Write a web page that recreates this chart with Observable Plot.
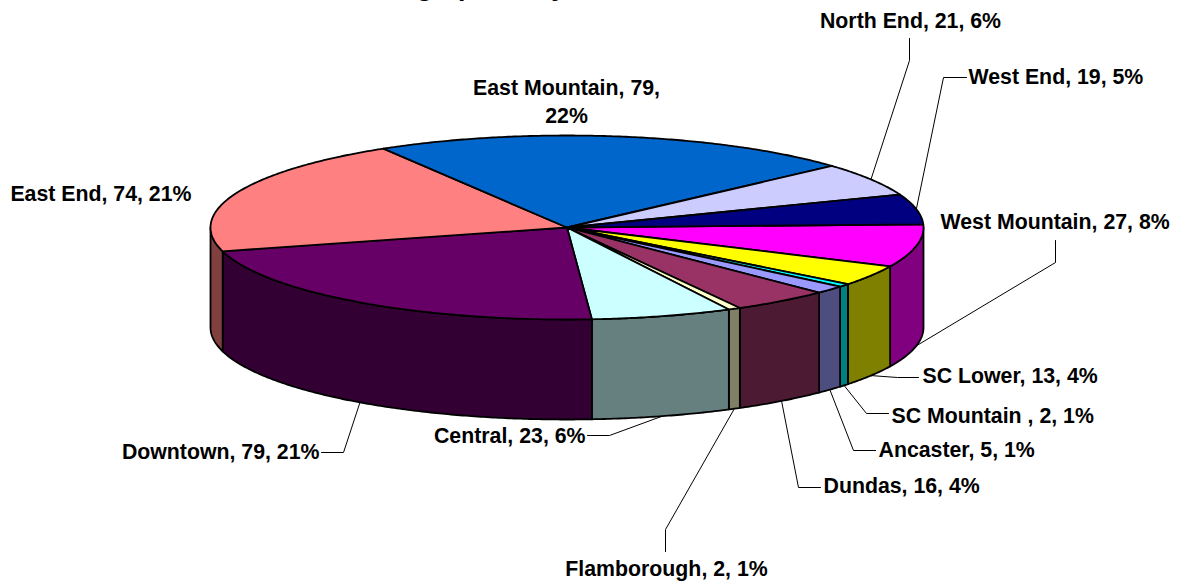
<!DOCTYPE html>
<html><head><meta charset="utf-8">
<script src="https://cdn.jsdelivr.net/npm/d3@7"></script>
<script src="https://cdn.jsdelivr.net/npm/@observablehq/plot@0.6"></script>
<style>html,body{margin:0;padding:0;background:#fff;overflow:hidden}</style>
</head><body><div id="chart"></div>
<script>
const names = ["West Mountain","SC Lower","SC Mountain ","Ancaster","Dundas","Flamborough","Central","Downtown","East End","East Mountain","North End","West End"];
const counts = [27,13,2,5,16,2,23,79,74,79,21,19];
const percents = [8,4,1,1,4,1,6,21,21,22,6,5];
const topColors = ["#FF00FF","#FFFF00","#00FFFF","#9999FF","#993366","#FFFFCC","#CCFFFF","#660066","#FF8080","#0066CC","#CCCCFF","#000080"];
const sideColors = ["#800080","#808000","#008080","#4D4D80","#4D1A33","#808066","#668080","#330033","#804040","#003366","#666680","#000040"];
const titleText = "Demographics by";

// pie geometry
const W = 1179, H = 583;
const cx = 566.5, cy = 227, rx = 356.5, ry = 92, depth = 100, startAngle = -2;
const rad = d => d * Math.PI / 180;
const pt = (t, dz = 0) => ({x: cx + rx * Math.cos(rad(t)), y: cy + ry * Math.sin(rad(t)) + dz});

// label layout: text anchor position + knee points of leader
const layout = {
  "West Mountain": {x:940, y:222, anchor:"start", leader:[[1055,262],[1055,240]]},
  "SC Lower": {x:922, y:376, anchor:"start", leader:[[897,377],[918,377]]},
  "SC Mountain ": {x:891, y:416, anchor:"start", leader:[[866,413],[888,413]]},
  "Ancaster": {x:878, y:450, anchor:"start", leader:[[853,450],[875,450]]},
  "Dundas": {x:823, y:486, anchor:"start", leader:[[798,487],[820,487]]},
  "Flamborough": {x:666, y:569, anchor:"middle", leader:[[665,529],[665,551]]},
  "Central": {x:585, y:436, anchor:"end", leader:[[609,435],[587,435]]},
  "Downtown": {x:319, y:452, anchor:"end", leader:[[343,452],[321,452]]},
  "East End": {x:191, y:194, anchor:"end", leader:null},
  "East Mountain": {x:566, y:88, anchor:"middle", leader:null, wrap:true},
  "North End": {x:910, y:21, anchor:"middle", leader:[[909,60],[909,38]]},
  "West End": {x:968, y:77, anchor:"start", leader:[[943,77],[966,77]]}
};

let acc = startAngle;
const slices = names.map((name,i) => {
  const a0 = acc, a1 = acc + counts[i]; acc = a1;
  return {name, i, a0, a1, mid:(a0+a1)/2};
});

const topPts = [], sidePts = [], leaderPts = [], labelRows = [];
for (const s of slices) {
  const c = topColors[s.i];
  topPts.push({id:s.name, fill:c, x:cx, y:cy});
  for (let t = s.a0; t <= s.a1; t += 0.5) topPts.push({id:s.name, fill:c, ...pt(t)});
  topPts.push({id:s.name, fill:c, x:cx, y:cy});
  const lo = Math.max(s.a0, 0), hi = Math.min(s.a1, 180);
  if (lo < hi) {
    const sc = sideColors[s.i];
    const ts = d3.range(lo, hi, 0.5).concat(hi);
    for (const t of ts) sidePts.push({id:s.name, fill:sc, ...pt(t)});
    for (const t of ts.slice().reverse()) sidePts.push({id:s.name, fill:sc, ...pt(t, depth)});
    sidePts.push({id:s.name, fill:sc, ...pt(ts[0])});
  }
  const l = layout[s.name];
  if (l.leader) {
    const front = s.mid > 0 && s.mid < 180;
    leaderPts.push({id:s.name, ...pt(s.mid, front ? depth : 0)});
    for (const [x,y] of l.leader) leaderPts.push({id:s.name, x, y});
  }
  const text = `${s.name}, ${counts[s.i]}, ${percents[s.i]}%`;
  if (l.wrap) {
    labelRows.push({x:l.x, y:l.y, anchor:l.anchor, text:`${s.name}, ${counts[s.i]},`});
    labelRows.push({x:l.x, y:l.y+28, anchor:l.anchor, text:`${percents[s.i]}%`});
  } else labelRows.push({x:l.x, y:l.y, anchor:l.anchor, text});
}

const textOpts = {fontFamily:"Liberation Sans, Arial, sans-serif", fontWeight:"bold", fontSize:21.3, fill:"#000", lineAnchor:"middle"};

const chart = Plot.plot({
  width:W, height:H, margin:0,
  x:{domain:[0,W], range:[0,W], axis:null},
  y:{domain:[0,H], range:[0,H], axis:null},
  color:{type:"identity"},
  marks:[
    Plot.line(leaderPts, {x:"x", y:"y", z:"id", stroke:"#000", strokeWidth:1}),
    Plot.line(sidePts, {x:"x", y:"y", z:"id", fill:"fill", stroke:"#000", strokeWidth:1.8, strokeLinejoin:"round"}),
    Plot.line(topPts, {x:"x", y:"y", z:"id", fill:"fill", stroke:"#000", strokeWidth:1.8, strokeLinejoin:"round"}),
    ...["start","middle","end"].map(a => Plot.text(labelRows.filter(d => d.anchor===a), {x:"x", y:"y", text:"text", textAnchor:a, ...textOpts})),
    Plot.text([titleText], {x:()=>342, y:()=>-13, text:d=>d, textAnchor:"start", fontFamily:"Liberation Sans, Arial, sans-serif", fontWeight:"bold", fontSize:26.67, lineAnchor:"middle"})
  ]
});
document.getElementById("chart").appendChild(chart);
</script></body></html>
